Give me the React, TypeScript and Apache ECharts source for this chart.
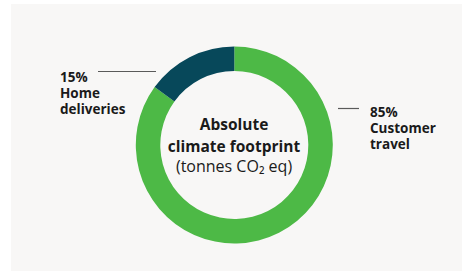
import React, { useEffect, useRef } from "react";
import * as echarts from "echarts";

const categories = ["Customer travel", "Home deliveries"];
const values = [85, 15];
const labelLines = [
  ["Customer", "travel"],
  ["Home", "deliveries"],
];
const colors = ["#4DB946", "#07485A"];
const centerTitle = ["Absolute", "climate footprint"];
const centerSub = "(tonnes CO\u2082 eq)";

export default function App() {
  const ref = useRef<HTMLDivElement>(null);
  useEffect(() => {
    if (!ref.current) return;
    const chart = echarts.init(ref.current, undefined, { renderer: "svg" });
    const font = "'Open Sans', 'Noto Sans', sans-serif";
    const total = values.reduce((a, b) => a + b, 0);
    const pct = values.map((v) => Math.round((v / total) * 100) + "%");
    const labelFont = `bold 13.5px ${font}`;
    const textLines = (lines: string[], x: number, y0: number) =>
      lines.map((t, i) => ({
        type: "text",
        x,
        y: y0 + i * 16,
        style: {
          text: t,
          font: labelFont,
          fill: "#1a1a1a",
          verticalAlign: "middle",
        },
      }));
    const centerLines = [
      { t: centerTitle[0], y: 124, f: `bold 15.5px ${font}` },
      { t: centerTitle[1], y: 146, f: `bold 15.5px ${font}` },
      { t: centerSub, y: 166, f: `16px ${font}` },
    ];
    chart.setOption({
      animation: false,
      backgroundColor: "#ffffff",
      graphic: [
        {
          type: "rect",
          z: -10,
          shape: { x: 11, y: 4, width: 451, height: 267 },
          style: { fill: "#F8F7F6" },
          silent: true,
        },
        {
          type: "line",
          shape: { x1: 98, y1: 71.5, x2: 156, y2: 71.5 },
          style: { stroke: "#5a5a5a", lineWidth: 1.2 },
        },
        ...textLines([pct[1], ...labelLines[1]], 60, 77),
        {
          type: "line",
          shape: { x1: 338, y1: 108.5, x2: 359, y2: 108.5 },
          style: { stroke: "#5a5a5a", lineWidth: 1.2 },
        },
        ...textLines([pct[0], ...labelLines[0]], 370, 112),
        ...centerLines.map((c) => ({
          type: "text",
          x: 234,
          y: c.y,
          style: {
            text: c.t,
            font: c.f,
            fill: "#1a1a1a",
            align: "center",
            verticalAlign: "middle",
          },
        })),
      ],
      series: [
        {
          type: "pie",
          center: [234.3, 145],
          radius: [74, 98.5],
          startAngle: 90,
          clockwise: true,
          label: { show: false },
          labelLine: { show: false },
          silent: true,
          data: categories.map((c, i) => ({
            name: c,
            value: values[i],
            itemStyle: { color: colors[i] },
          })),
        },
      ],
    });
    return () => chart.dispose();
  }, []);
  return (
    <div
      ref={ref}
      style={{ position: "fixed", left: 0, top: 0, width: 462, height: 272 }}
    />
  );
}
